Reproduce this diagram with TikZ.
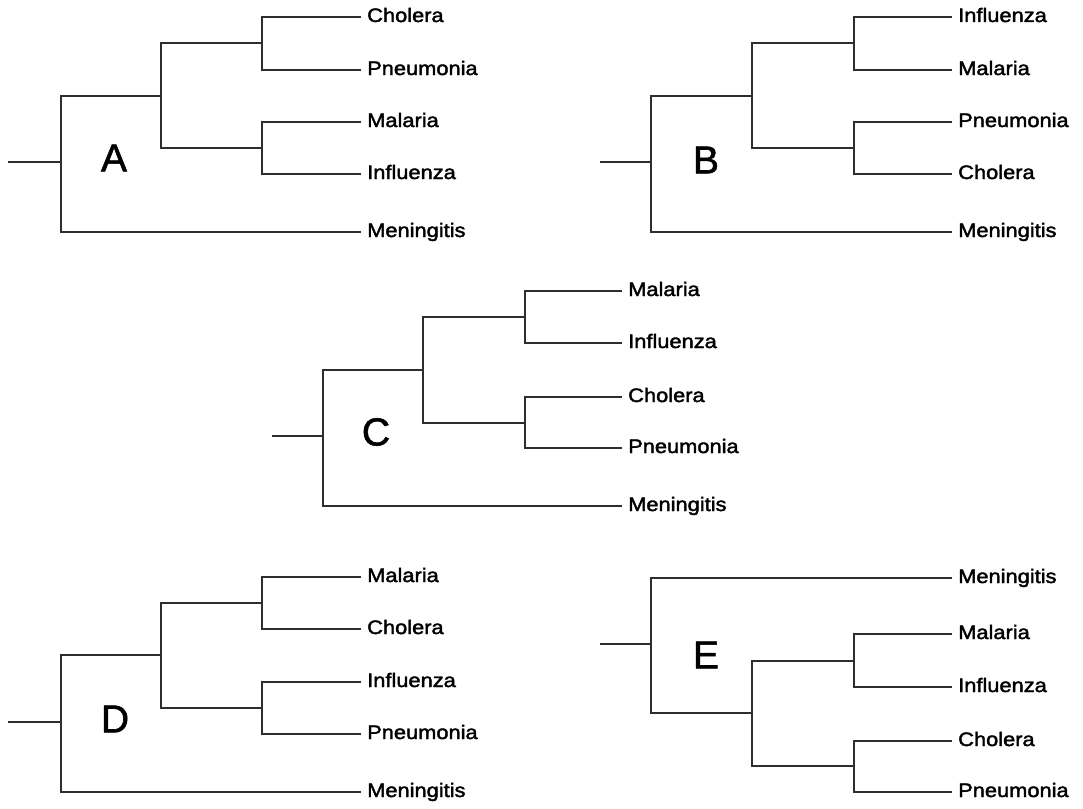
\documentclass[tikz,border=0pt]{standalone}
\usepackage{fontspec}
\setmainfont{Liberation Sans}
\newfontfamily\labfont[FakeStretch=1.12,FakeBold=2]{Liberation Sans}
\newfontfamily\bigfont[FakeBold=1.5]{Liberation Sans}
\begin{document}
\begin{tikzpicture}[x=1pt,y=-1pt,
  br/.style={draw=black!82,line width=2pt},
  leaf/.style={anchor=west,inner xsep=6pt,inner ysep=0pt,text height=14pt,text depth=4pt,
    font=\labfont\fontsize{19.5}{19.5}\selectfont,text=black},
  tlabel/.style={font=\bigfont\fontsize{39}{39}\selectfont,inner sep=0pt,text=black}]
\useasboundingbox (0,0) rectangle (1083,808);
\fill[white] (0,0) rectangle (1083,808);

% ---------- Tree A ----------
\coordinate (sA) at (8,162);
\coordinate (rA) at (61,162);
\coordinate (iA) at (161,96);
\coordinate (cA1) at (262,43);
\coordinate (cA2) at (262,148);
\node[leaf] (A1) at (361,17) {Cholera};
\node[leaf] (A2) at (361,70) {Pneumonia};
\node[leaf] (A3) at (361,122) {Malaria};
\node[leaf] (A4) at (361,174) {Influenza};
\node[leaf] (A5) at (361,232) {Meningitis};
\node[tlabel] (LA) at (114,158) {A};
\draw[br] (sA) -- (rA);
\draw[br] (rA) |- (iA);
\draw[br] (rA) |- (A5);
\draw[br] (iA) |- (cA1);
\draw[br] (iA) |- (cA2);
\draw[br] (cA1) |- (A1);
\draw[br] (cA1) |- (A2);
\draw[br] (cA2) |- (A3);
\draw[br] (cA2) |- (A4);

% ---------- Tree B ----------
\coordinate (sB) at (600,162);
\coordinate (rB) at (651,162);
\coordinate (iB) at (752,96);
\coordinate (cB1) at (854,43);
\coordinate (cB2) at (854,148);
\node[leaf] (B1) at (952,17) {Influenza};
\node[leaf] (B2) at (952,70) {Malaria};
\node[leaf] (B3) at (952,122) {Pneumonia};
\node[leaf] (B4) at (952,174) {Cholera};
\node[leaf] (B5) at (952,232) {Meningitis};
\node[tlabel] (LB) at (706,160) {B};
\draw[br] (sB) -- (rB);
\draw[br] (rB) |- (iB);
\draw[br] (rB) |- (B5);
\draw[br] (iB) |- (cB1);
\draw[br] (iB) |- (cB2);
\draw[br] (cB1) |- (B1);
\draw[br] (cB1) |- (B2);
\draw[br] (cB2) |- (B3);
\draw[br] (cB2) |- (B4);

% ---------- Tree C ----------
\coordinate (sC) at (272,436);
\coordinate (rC) at (323,436);
\coordinate (iC) at (423,370);
\coordinate (cC1) at (525,317);
\coordinate (cC2) at (525,423);
\node[leaf] (C1) at (622,291) {Malaria};
\node[leaf] (C2) at (622,343) {Influenza};
\node[leaf] (C3) at (622,397) {Cholera};
\node[leaf] (C4) at (622,448) {Pneumonia};
\node[leaf] (C5) at (622,506) {Meningitis};
\node[tlabel] (LC) at (376,432) {C};
\draw[br] (sC) -- (rC);
\draw[br] (rC) |- (iC);
\draw[br] (rC) |- (C5);
\draw[br] (iC) |- (cC1);
\draw[br] (iC) |- (cC2);
\draw[br] (cC1) |- (C1);
\draw[br] (cC1) |- (C2);
\draw[br] (cC2) |- (C3);
\draw[br] (cC2) |- (C4);

% ---------- Tree D ----------
\coordinate (sD) at (8,722);
\coordinate (rD) at (61,722);
\coordinate (iD) at (161,655);
\coordinate (cD1) at (262,603);
\coordinate (cD2) at (262,708);
\node[leaf] (D1) at (361,577) {Malaria};
\node[leaf] (D2) at (361,629) {Cholera};
\node[leaf] (D3) at (361,682) {Influenza};
\node[leaf] (D4) at (361,734) {Pneumonia};
\node[leaf] (D5) at (361,792) {Meningitis};
\node[tlabel] (LD) at (115,719) {D};
\draw[br] (sD) -- (rD);
\draw[br] (rD) |- (iD);
\draw[br] (rD) |- (D5);
\draw[br] (iD) |- (cD1);
\draw[br] (iD) |- (cD2);
\draw[br] (cD1) |- (D1);
\draw[br] (cD1) |- (D2);
\draw[br] (cD2) |- (D3);
\draw[br] (cD2) |- (D4);

% ---------- Tree E ----------
\coordinate (sE) at (600,644);
\coordinate (rE) at (651,644);
\coordinate (iE) at (752,713);
\coordinate (cE1) at (854,661);
\coordinate (cE2) at (854,766);
\node[leaf] (E1) at (952,578) {Meningitis};
\node[leaf] (E2) at (952,634) {Malaria};
\node[leaf] (E3) at (952,687) {Influenza};
\node[leaf] (E4) at (952,741) {Cholera};
\node[leaf] (E5) at (952,792) {Pneumonia};
\node[tlabel] (LE) at (706,655) {E};
\draw[br] (sE) -- (rE);
\draw[br] (rE) |- (E1);
\draw[br] (rE) |- (iE);
\draw[br] (iE) |- (cE1);
\draw[br] (iE) |- (cE2);
\draw[br] (cE1) |- (E2);
\draw[br] (cE1) |- (E3);
\draw[br] (cE2) |- (E4);
\draw[br] (cE2) |- (E5);
\end{tikzpicture}
\end{document}
